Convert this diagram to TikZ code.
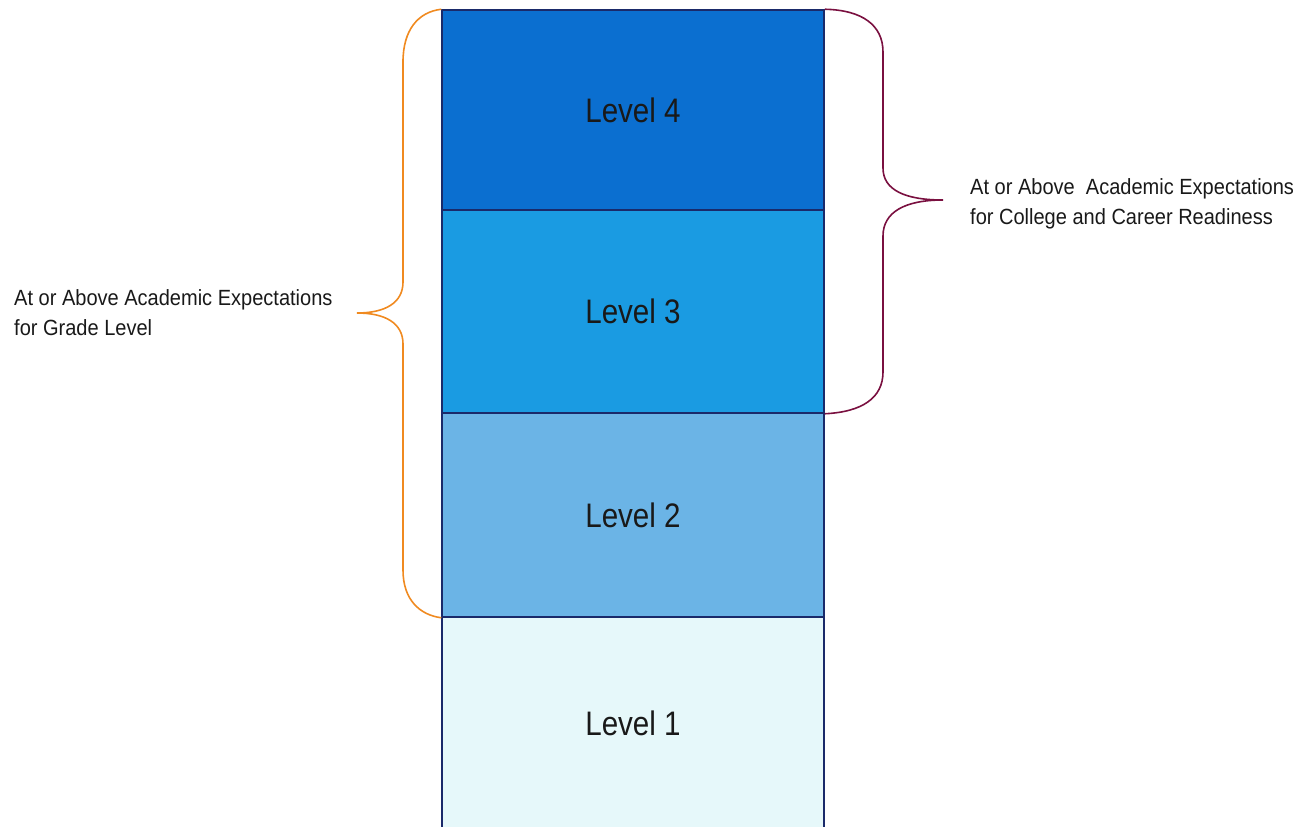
\documentclass[tikz,border=0pt]{standalone}
\usepackage{fontspec}
\setmainfont{Liberation Sans}
\newfontfamily\levelfont[FakeStretch=0.87]{Liberation Sans}
\newfontfamily\labelfont[FakeStretch=0.91]{Liberation Sans}
\definecolor{lvfour}{HTML}{0B6FD0}
\definecolor{lvthree}{HTML}{1A9BE2}
\definecolor{lvtwo}{HTML}{6BB4E6}
\definecolor{lvone}{HTML}{E6F8FA}
\definecolor{edgecol}{HTML}{1A2A6A}
\definecolor{bracer}{HTML}{7A1040}
\definecolor{bracel}{HTML}{F08A20}
\begin{document}
\begin{tikzpicture}[x=1pt,y=-1pt,
  lvbox/.style={draw=edgecol,line width=1.5pt,minimum width=382pt,minimum height=203pt,inner sep=0pt,font=\levelfont\fontsize{34}{38}\selectfont,text=black!90},
  lbl/.style={align=left,anchor=west,font=\labelfont\fontsize{22}{30}\selectfont,text=black!90,inner sep=0pt},
  bracestyle/.style={line width=1.6pt}]
\useasboundingbox (0,0) rectangle (1302,827);
\node[lvbox,fill=lvfour,minimum height=200pt] (l4) at (633,110) {Level 4};
\node[lvbox,fill=lvthree] (l3) at (633,311.5) {Level 3};
\node[lvbox,fill=lvtwo,minimum height=204pt] (l2) at (633,515) {Level 2};
\node[lvbox,fill=lvone,minimum height=212pt] (l1) at (633,723) {Level 1};
% right brace
\coordinate (rt) at (l4.north east);
\coordinate (rb) at (l3.south east);
\coordinate (rtip) at (943,200);
\draw[bracer,bracestyle] (rt) .. controls (862,10) and (883,25) .. (883,52) -- (883,168)
  .. controls (883,190) and (905,200) .. (rtip)
  .. controls (905,200) and (883,212) .. (883,236) -- (883,372)
  .. controls (883,398) and (862,412) .. (rb);
% left brace
\coordinate (lt) at (l4.north west);
\coordinate (lb) at (l2.south west);
\coordinate (ltip) at (357,313);
\draw[bracel,bracestyle] (lt) .. controls (418,12) and (403,30) .. (403,62) -- (403,282)
  .. controls (403,303) and (385,313) .. (ltip)
  .. controls (385,313) and (403,323) .. (403,344) -- (403,570)
  .. controls (403,600) and (420,615) .. (lb);
\node[lbl] (ll) at (14,313) {At or Above Academic Expectations\\for Grade Level};
\node[lbl] (rl) at (970,204) {At or Above\ \ Academic Expectations\\for College and Career Readiness};
\end{tikzpicture}
\end{document}
